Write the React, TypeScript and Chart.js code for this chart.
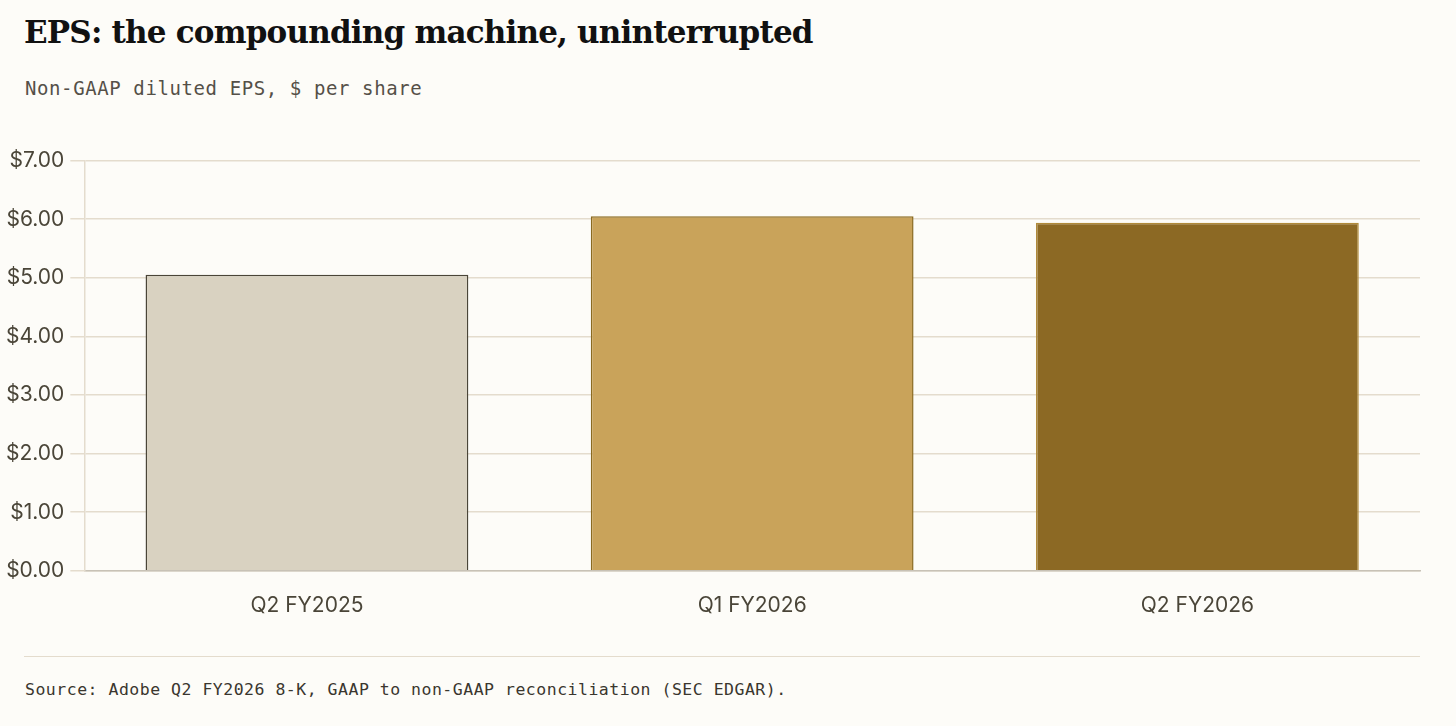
import React, { useEffect, useRef } from "react";
import { Chart, registerables } from "chart.js";
Chart.register(...registerables);

const categories = ["Q2 FY2025", "Q1 FY2026", "Q2 FY2026"];
const epsValues = [5.05, 6.05, 5.94];
const barColors = ["#d9d2c1", "#c9a35a", "#8c6924"];
const borderColors = ["#4a4538", "#8a6a20", "#b08a3a"];
const yTicks = [0, 1, 2, 3, 4, 5, 6, 7];

export default function App() {
  const ref = useRef<HTMLCanvasElement>(null);
  useEffect(() => {
    const chart = new Chart(ref.current!, {
      type: "bar",
      data: {
        labels: categories,
        datasets: [{
          data: epsValues,
          backgroundColor: barColors,
          borderColor: borderColors,
          borderWidth: 1.5,
          categoryPercentage: 0.725,
          barPercentage: 1,
        }],
      },
      options: {
        animation: false,
        responsive: false,
        maintainAspectRatio: false,
        layout: { padding: { left: 0, right: 36, top: 8, bottom: 0 } },
        plugins: { legend: { display: false }, tooltip: { enabled: false } },
        scales: {
          x: {
            grid: { display: false },
            border: { color: "#c8c2b6", width: 1.5 },
            ticks: { color: "#4a4538", font: { family: "Inter", size: 21 }, padding: 14 },
          },
          y: {
            min: 0, max: 7,
            afterBuildTicks: (ax: any) => { ax.ticks = yTicks.map(v => ({ value: v })); },
            grid: { color: "#e4dccd", lineWidth: 1.5, tickLength: 14 },
            border: { display: true, color: "#e4dccd", width: 1.5 },
            ticks: {
              color: "#4a4538", font: { family: "Inter", size: 21 }, padding: 6,
              callback: (v: any) => "$" + Number(v).toFixed(2),
            },
          },
        },
      },
    });
    return () => chart.destroy();
  }, []);
  return (
    <div style={{ position: "fixed", inset: 0, background: "#fdfcf8", overflow: "hidden" }}>
      <div style={{ position: "absolute", left: 24, top: 14, fontFamily: "'DejaVu Serif'", fontWeight: 700, fontSize: 31, color: "#111", letterSpacing: -0.8 }}>
        EPS: the compounding machine, uninterrupted
      </div>
      <div style={{ position: "absolute", left: 25, top: 77, fontFamily: "'DejaVu Sans Mono'", fontSize: 19, color: "#555048", letterSpacing: 0.6 }}>
        Non-GAAP diluted EPS, $ per share
      </div>
      <canvas ref={ref} width={1456} height={490} style={{ position: "absolute", left: 0, top: 142, width: 1456, height: 490 }} />
      <div style={{ position: "absolute", left: 24, right: 36, top: 656, borderTop: "1.5px solid #e4dccd" }} />
      <div style={{ position: "absolute", left: 25, top: 680, fontFamily: "'DejaVu Sans Mono'", fontSize: 16.5, color: "#3a362e", letterSpacing: 0.5 }}>
        Source: Adobe Q2 FY2026 8-K, GAAP to non-GAAP reconciliation (SEC EDGAR).
      </div>
    </div>
  );
}
